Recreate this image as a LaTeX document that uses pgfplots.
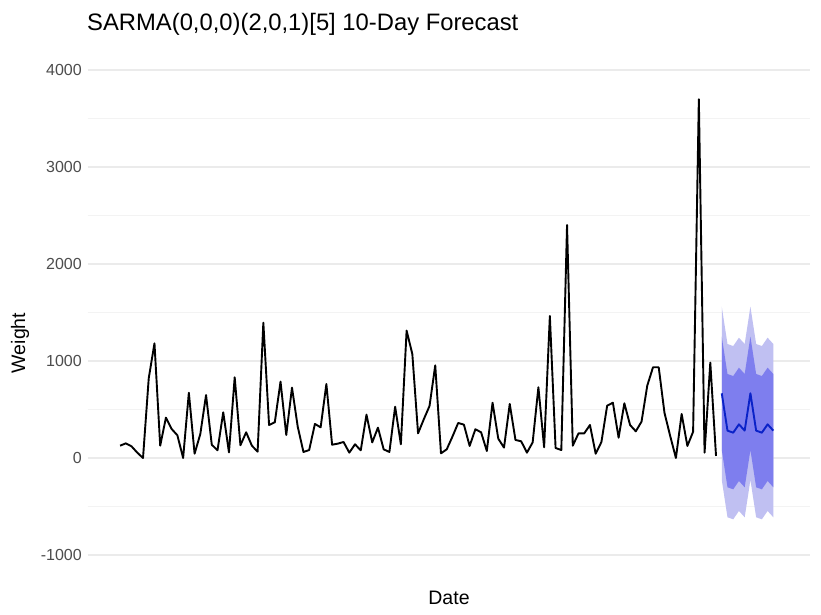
\documentclass[border=0pt]{standalone}
\usepackage{pgfplots}
\pgfplotsset{compat=1.18}
\usepackage{fontspec}
\setmainfont{Liberation Sans}

\definecolor{gridmajor}{HTML}{EBEBEB}
\definecolor{gridminor}{HTML}{F3F3F3}
\definecolor{ticktext}{HTML}{4D4D4D}
\definecolor{band95}{HTML}{C0C0F2}
\definecolor{band80}{HTML}{7E7EEE}
\definecolor{fcline}{HTML}{0A22C8}

% observed daily weight
\pgfplotstableread{
t w
0 127
1 151
2 120
3 55
4 0
5 822
6 1182
7 127
8 416
9 299
10 234
11 0
12 673
13 44
14 247
15 649
16 137
17 79
18 471
19 58
20 832
21 131
22 265
23 127
24 65
25 1395
26 340
27 368
28 787
29 237
30 725
31 323
32 62
33 82
34 351
35 316
36 763
37 137
38 148
39 165
40 55
41 141
42 79
43 447
44 161
45 313
46 89
47 62
48 529
49 141
50 1313
51 1072
52 254
53 399
54 536
55 955
56 48
57 89
58 220
59 361
60 344
61 124
62 296
63 265
64 72
65 570
66 199
67 107
68 557
69 186
70 172
71 55
72 161
73 729
74 110
75 1464
76 103
77 82
78 2402
79 127
80 254
81 254
82 340
83 44
84 165
85 539
86 570
87 209
88 564
89 340
90 275
91 375
92 746
93 935
94 935
95 467
96 227
97 0
98 454
99 124
100 271
101 3698
102 55
103 983
104 21
}\observed

% point forecast
\pgfplotstableread{
t m
105 667
106 282
107 261
108 347
109 282
110 667
111 282
112 261
113 347
114 282
}\fcmean

\begin{document}
\begin{tikzpicture}
\useasboundingbox[fill=white] (0,0) rectangle (821bp,615bp);
\begin{axis}[
  at={(88bp,57.1bp)}, anchor=south west,
  scale only axis, width=722bp, height=490.8bp,
  xmin=-5.6, xmax=120.4, ymin=-1030, ymax=4030,
  axis line style={draw=none},
  xtick=\empty,
  ytick={-1000,0,1000,2000,3000,4000},
  yticklabels={-1000,0,1000,2000,3000,4000},
  minor ytick={-500,500,1500,2500,3500},
  ymajorgrids, yminorgrids,
  major grid style={gridmajor, line width=1.1bp},
  minor grid style={gridminor, line width=0.8bp},
  major tick length=0pt, minor tick length=0pt,
  y tick label style={anchor=east, inner sep=0pt, xshift=-6bp,
    font=\fontsize{16bp}{18bp}\selectfont, text=ticktext},
  clip=false,
]
% 95% interval
\addplot[fill=band95, draw=none] coordinates {
  (105,1560) (106,1175) (107,1154) (108,1240) (109,1175)
  (110,1560) (111,1175) (112,1154) (113,1240) (114,1175)
  (114,-611) (113,-546) (112,-632) (111,-611) (110,-226)
  (109,-611) (108,-546) (107,-632) (106,-611) (105,-226)
} -- cycle;
% 80% interval
\addplot[fill=band80, draw=none] coordinates {
  (105,1251) (106,866) (107,845) (108,931) (109,866)
  (110,1251) (111,866) (112,845) (113,931) (114,866)
  (114,-302) (113,-237) (112,-323) (111,-302) (110,83)
  (109,-302) (108,-237) (107,-323) (106,-302) (105,83)
} -- cycle;
\addplot[black, line width=1.9bp, line join=round] table[x=t, y=w] {\observed};
\addplot[fcline, line width=1.9bp, line join=round] table[x=t, y=m] {\fcmean};
\end{axis}
\node[anchor=base west, inner sep=0pt, font=\fontsize{23.8bp}{28bp}\selectfont]
  at (87bp,584bp) {SARMA(0,0,0)(2,0,1)[5] 10-Day Forecast};
\node[rotate=90, inner sep=0pt, font=\fontsize{19.5bp}{23bp}\selectfont]
  at (20bp,272bp) {Weight};
\node[anchor=base, inner sep=0pt, font=\fontsize{19.5bp}{23bp}\selectfont]
  at (449bp,11bp) {Date};
\end{tikzpicture}
\end{document}
